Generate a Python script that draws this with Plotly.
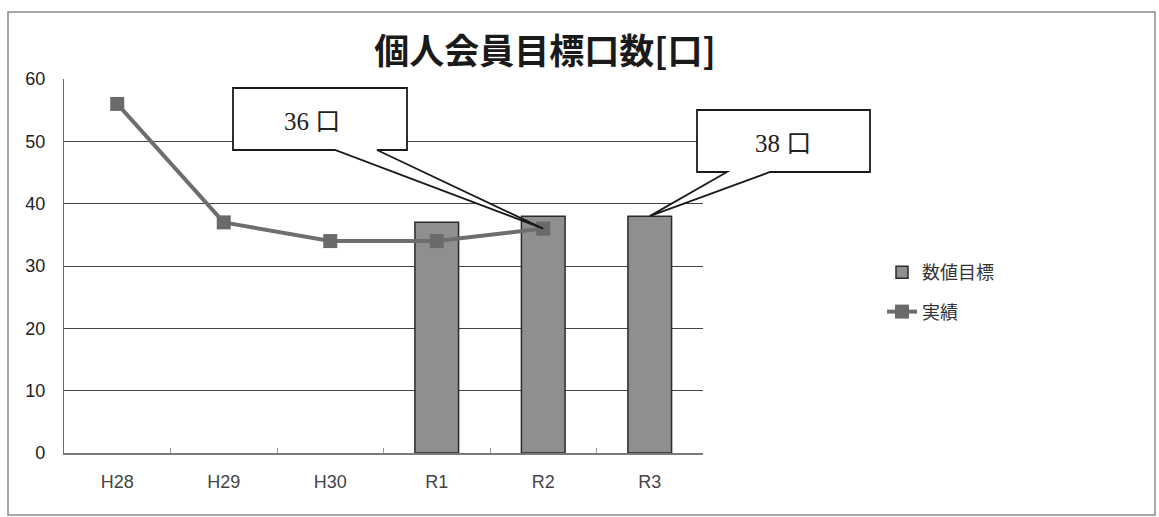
import plotly.graph_objects as go

# 年度区分
categories = ["H28", "H29", "H30", "R1", "R2", "R3"]
# 数値目標(口)
target = [None, None, None, 37, 38, 38]
# 実績(口)
actual = [56, 37, 34, 34, 36, None]

# callouts: (category, value, text)
callout_r2 = ("R2", 36, "36 口")
callout_r3 = ("R3", 38, "38 口")

W, H = 1159, 517
ML, MR, MT, MB = 64, 456, 79, 64
PW, PH = W - ML - MR, H - MT - MB
Y_MAX = 60


def px_x(px):
    return (px - ML) / PW


def px_y(py):
    return (H - MB - py) / PH


def data_to_paper(cat, val):
    i = categories.index(cat)
    return (i + 0.5) / len(categories), val / Y_MAX


fig = go.Figure()

fig.add_trace(go.Bar(
    x=categories, y=target, name="数値目標", legendgroup="target",
    marker=dict(color="#8f8f8f", line=dict(color="#2b2b2b", width=1.5)),
    width=0.41,
))
fig.add_trace(go.Scatter(
    x=categories, y=actual, name="実績", mode="lines+markers", legendgroup="actual",
    line=dict(color="#6e6e6e", width=4),
    marker=dict(symbol="square", size=14, color="#6a6a6a"),
))


def callout(box, base, tip_cat, tip_val):
    """Box outline with a wedge running from its edge to a data point."""
    x0, y0, x1, y1 = box
    bx0, bx1 = base
    tx, ty = data_to_paper(tip_cat, tip_val)
    pts = [
        (px_x(x0), px_y(y0)), (px_x(x1), px_y(y0)), (px_x(x1), px_y(y1)),
        (px_x(bx1), px_y(y1)), (tx, ty), (px_x(bx0), px_y(y1)),
        (px_x(x0), px_y(y1)),
    ]
    path = "M " + " L ".join(f"{a:.5f},{b:.5f}" for a, b in pts) + " Z"
    return dict(type="path", xref="paper", yref="paper", path=path,
                fillcolor="white", line=dict(color="#1a1a1a", width=1.8),
                layer="above")


shapes = [
    # outer chart frame
    dict(type="rect", xref="paper", yref="paper",
         x0=px_x(8), x1=px_x(1155), y0=px_y(515), y1=px_y(12),
         line=dict(color="#8a8a8a", width=1.5), layer="below"),
    callout((233, 88, 407, 150), (335, 377), *callout_r2[:2]),
    callout((697, 110, 870, 172), (727, 770), *callout_r3[:2]),
]

callout_font = dict(family="Liberation Serif, Noto Sans CJK JP", size=25, color="#222")
annotations = [
    dict(x=px_x(312), y=px_y(121), xref="paper", yref="paper",
         xanchor="center", yanchor="middle",
         text=callout_r2[2], showarrow=False, font=callout_font),
    dict(x=px_x(783), y=px_y(143), xref="paper", yref="paper",
         xanchor="center", yanchor="middle",
         text=callout_r3[2], showarrow=False, font=callout_font),
]

fig.update_layout(
    width=W, height=H,
    margin=dict(l=ML, r=MR, t=MT, b=MB),
    paper_bgcolor="white", plot_bgcolor="white",
    title=dict(text="<b>個人会員目標口数[口]</b>", x=545 / W, xref="container",
               y=1 - 52 / H, yref="container", xanchor="center", yanchor="middle",
               font=dict(family="Noto Sans CJK JP", size=35, color="#1a1a1a")),
    showlegend=True,
    legend=dict(x=px_x(882), y=px_y(254), xanchor="left", yanchor="top",
                font=dict(family="Noto Sans CJK JP", size=18, color="#333"),
                bgcolor="rgba(0,0,0,0)", tracegroupgap=13),
    barmode="overlay",
    shapes=shapes,
    annotations=annotations,
    font=dict(family="Noto Sans CJK JP"),
)

fig.update_xaxes(
    type="category", categoryorder="array", categoryarray=categories,
    range=[-0.5, len(categories) - 0.5],
    showline=True, linecolor="#7a7a7a", linewidth=1.5,
    ticks="inside", tickson="boundaries", ticklen=5, tickcolor="#999",
    showgrid=False,
    tickfont=dict(family="Liberation Sans Narrow, Liberation Sans", size=18, color="#444"),
    ticklabelstandoff=12,
)
fig.update_yaxes(
    range=[0, Y_MAX], dtick=10,
    showline=True, linecolor="#6a6a6a", linewidth=1.2,
    showgrid=True, gridcolor="#444", gridwidth=1.2,
    zeroline=False,
    tickfont=dict(family="Liberation Sans", size=18, color="#222"),
    ticklabelstandoff=14,
)

fig.write_html("out.html")
